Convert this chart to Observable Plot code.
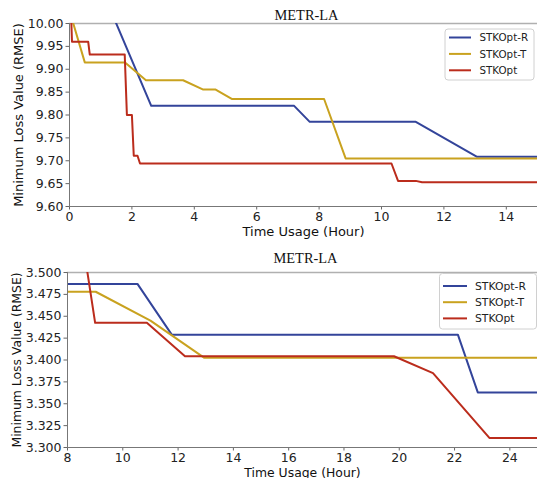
<!DOCTYPE html>
<html><head><meta charset="utf-8">
<script src="https://cdn.jsdelivr.net/npm/d3@7"></script>
<script src="https://cdn.jsdelivr.net/npm/@observablehq/plot@0.6"></script>
<style>
body{margin:0;background:#fff;width:537px;height:478px;overflow:hidden}
svg{display:block}
</style></head><body><div id="c"></div>
<script>
const title = "METR-LA";
const seriesNames = ["STKOpt-R", "STKOpt-T", "STKOpt"];
const colors = ["#33449a", "#c9a21f", "#bb2c1c"];
const yLabel = "Minimum Loss Value (RMSE)";
const xLabel = "Time Usage (Hour)";

// Top panel
const topR_x = [1.0, 2.62, 7.2, 7.7, 11.1, 13.05, 15];
const topR_y = [10.08, 9.82, 9.82, 9.785, 9.785, 9.709, 9.709];
const topT_x = [0.1, 0.49, 1.78, 2.45, 3.64, 4.27, 4.67, 5.2, 8.16, 8.85, 15];
const topT_y = [10.005, 9.915, 9.915, 9.876, 9.876, 9.856, 9.856, 9.835, 9.835, 9.705, 9.705];
const topO_x = [0.05, 0.08, 0.6, 0.65, 1.77, 1.84, 2.0, 2.06, 2.18, 2.26, 10.32, 10.53, 11.1, 11.3, 15];
const topO_y = [10.02, 9.96, 9.96, 9.932, 9.932, 9.80, 9.80, 9.711, 9.711, 9.694, 9.694, 9.656, 9.656, 9.653, 9.653];
const topXTicks = [0, 2, 4, 6, 8, 10, 12, 14];
const topYTicks = [9.60, 9.65, 9.70, 9.75, 9.80, 9.85, 9.90, 9.95, 10.00];

// Bottom panel
const botR_x = [8, 10.53, 11.77, 22.12, 22.84, 25];
const botR_y = [3.487, 3.487, 3.429, 3.429, 3.363, 3.363];
const botT_x = [8, 9.02, 11.0, 12.95, 25];
const botT_y = [3.478, 3.478, 3.445, 3.4025, 3.4025];
const botO_x = [8.6, 9.0, 10.87, 12.25, 19.81, 21.22, 23.26, 25];
const botO_y = [3.525, 3.4425, 3.4425, 3.4043, 3.4043, 3.385, 3.311, 3.311];
const botXTicks = [8, 10, 12, 14, 16, 18, 20, 22, 24];
const botYTicks = [3.300, 3.325, 3.350, 3.375, 3.400, 3.425, 3.450, 3.475, 3.500];

function rows(xsList, ysList) {
  const out = [];
  xsList.forEach((xs, k) => xs.forEach((x, i) => out.push({x, y: ysList[k][i], s: seriesNames[k]})));
  return out;
}

function panel(o) {
  const data = rows(o.xs, o.ys);
  const svg = Plot.plot({
    width: 537, height: o.height,
    marginLeft: o.ml, marginRight: 0, marginTop: o.mt, marginBottom: o.mb,
    style: {fontFamily: "DejaVu Sans", fontSize: o.tickFont + "px", color: "#222", background: "#fff", overflow: "visible"},
    x: {domain: o.xDomain},
    y: {domain: o.yDomain},
    color: {domain: seriesNames, range: colors},
    marks: [
      Plot.frame({anchor: "top", stroke: "#b0b0b0", strokeWidth: 1.5}),
      Plot.line(data, {x: "x", y: "y", z: "s", stroke: "s", strokeWidth: 2, clip: true}),
      Plot.axisX({ticks: o.xTicks, tickFormat: d => String(d), tickSize: 3.5, tickPadding: 2.5, label: null, stroke: "#666", fontSize: o.tickFont}),
      Plot.axisY({ticks: o.yTicks, tickFormat: d => d.toFixed(o.dec), tickSize: 3.5, tickPadding: 2.5, label: null, stroke: "#666", fontSize: o.tickFont}),
      Plot.ruleX([o.xDomain[0]], {stroke: "#777", strokeWidth: 1}),
      Plot.ruleY([o.yDomain[0]], {stroke: "#777", strokeWidth: 1}),
      Plot.text([title], {frameAnchor: "top", dx: 3, dy: o.titleDy, lineAnchor: "bottom", fontFamily: "Liberation Serif", fontSize: 14.4, fill: "#111"}),
      Plot.text([xLabel], {frameAnchor: "bottom", dy: o.xLabDy, lineAnchor: "bottom", fontSize: o.labFont, fill: "#111"}),
      Plot.text([yLabel], {frameAnchor: "left", dx: o.yLabDx, rotate: -90, textAnchor: "middle", lineAnchor: "middle", fontSize: o.labFont, fill: "#111"})
    ]
  });
  // legend
  const g = d3.select(svg).append("g").attr("text-anchor", "start");
  const L = o.legend;
  g.append("rect").attr("x", L.x).attr("y", L.y).attr("width", L.w).attr("height", L.h)
    .attr("rx", 3).attr("fill", "#fff").attr("fill-opacity", 0.85).attr("stroke", "#d0d0d0");
  seriesNames.forEach((name, i) => {
    const yy = L.row0 + i * L.step;
    g.append("line").attr("x1", L.lx1).attr("x2", L.lx2).attr("y1", yy).attr("y2", yy)
      .attr("stroke", colors[i]).attr("stroke-width", 2);
    g.append("text").attr("x", L.tx).attr("y", yy).attr("dy", "0.35em").attr("text-anchor", "start")
      .attr("font-family", "DejaVu Sans").attr("font-size", L.font).attr("fill", "#222").text(name);
  });
  return svg;
}

const c = document.getElementById("c");
c.appendChild(panel({
  height: 240, ml: 69, mt: 23, mb: 34,
  xs: [topR_x, topT_x, topO_x], ys: [topR_y, topT_y, topO_y],
  xDomain: [0, 15], yDomain: [9.6, 10.0], xTicks: topXTicks, yTicks: topYTicks, dec: 2,
  tickFont: 12.5, labFont: 13, titleDy: -4, xLabDy: 29, yLabDx: -51,
  legend: {x: 445, y: 29, w: 89, h: 51, row0: 37.5, step: 16.4, lx1: 449, lx2: 471, tx: 479.5, font: 10.3}
}));
c.appendChild(panel({
  height: 238, ml: 67, mt: 32, mb: 31,
  xs: [botR_x, botT_x, botO_x], ys: [botR_y, botT_y, botO_y],
  xDomain: [8, 25], yDomain: [3.3, 3.5], xTicks: botXTicks, yTicks: botYTicks, dec: 3,
  tickFont: 12.5, labFont: 12.4, titleDy: -9.5, xLabDy: 29, yLabDx: -50,
  legend: {x: 439.5, y: 273.5 - 240, w: 97, h: 55.5, row0: 286 - 240, step: 16.2, lx1: 443, lx2: 467, tx: 475, font: 10.8}
}));
</script></body></html>
